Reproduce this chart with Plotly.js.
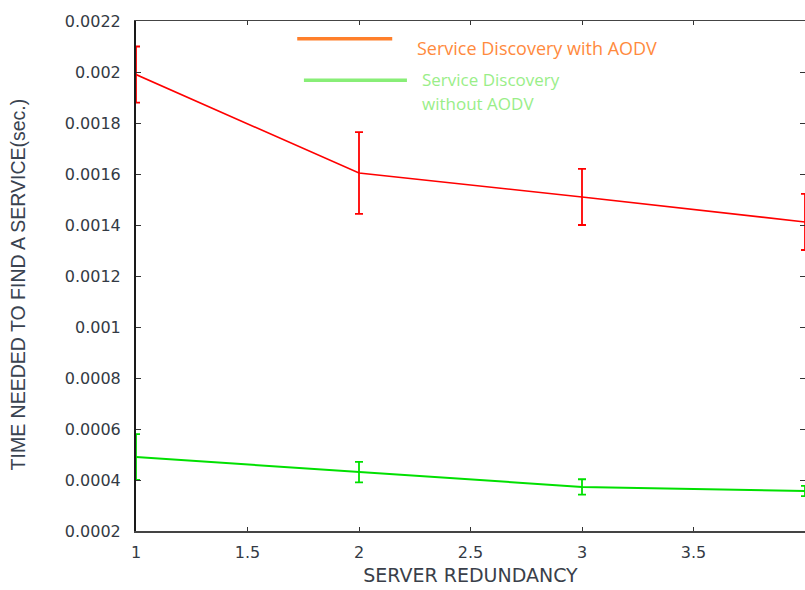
<!DOCTYPE html>
<html>
<head>
<meta charset="utf-8">
<script src="https://cdn.plot.ly/plotly-3.0.1.min.js"></script>
<style>html,body{margin:0;padding:0;background:#fff;}#chart{width:805px;height:590px;}</style>
</head>
<body>
<div id="chart"></div>
<script>
var serverRedundancy = [1, 2, 3, 4];
var withAodv = [0.00199, 0.001604, 0.00151, 0.001412];
var withAodvErr = [0.00011, 0.00016, 0.00011, 0.00011];
var withoutAodv = [0.00049, 0.000431, 0.000373, 0.000357];
var withoutAodvErr = [0.00009, 0.00004, 0.00003, 0.00002];
var yTickVals = [0.0002, 0.0004, 0.0006, 0.0008, 0.001, 0.0012, 0.0014, 0.0016, 0.0018, 0.002, 0.0022];
var yTickText = ["0.0002", "0.0004", "0.0006", "0.0008", "0.001", "0.0012", "0.0014", "0.0016", "0.0018", "0.002", "0.0022"];
var xTickVals = [1, 1.5, 2, 2.5, 3, 3.5, 4];
var xTickText = ["1", "1.5", "2", "2.5", "3", "3.5", "4"];
var xTitle = "SERVER REDUNDANCY";
var yTitle = "TIME NEEDED TO FIND A SERVICE(sec.)";
var legendWith = "Service Discovery with AODV";
var legendWithoutLines = ["Service Discovery", "without AODV"];

var traces = [
  {x: serverRedundancy, y: withAodv, type: 'scatter', mode: 'lines', name: legendWith,
   line: {color: '#ff0000', width: 1.6},
   error_y: {type: 'data', array: withAodvErr, visible: true, color: '#ff0000', thickness: 1.8, width: 4}},
  {x: serverRedundancy, y: withoutAodv, type: 'scatter', mode: 'lines', name: legendWithoutLines.join(' '),
   line: {color: '#00e000', width: 2},
   error_y: {type: 'data', array: withoutAodvErr, visible: true, color: '#00e000', thickness: 1.8, width: 4}}
];

var tickFont = {family: 'DejaVu Sans, sans-serif', size: 16, color: '#333a44'};
var legFont = 'Open Sans, sans-serif';

var layout = {
  width: 805, height: 590,
  margin: {l: 136, r: 0, t: 21, b: 59},
  paper_bgcolor: '#fff', plot_bgcolor: '#fff',
  showlegend: false,
  font: {family: 'DejaVu Sans, sans-serif', color: '#333'},
  xaxis: {
    range: [1, 4], tickvals: xTickVals, ticktext: xTickText,
    ticks: 'inside', ticklen: 4, tickcolor: '#333', mirror: 'ticks',
    showline: true, linecolor: '#444', linewidth: 1.5, showgrid: false, zeroline: false,
    tickfont: tickFont, ticklabelstandoff: 6,
    title: {text: xTitle, font: {family: 'DejaVu Sans, sans-serif', size: 19, color: '#3a3f4a'}, standoff: 8}
  },
  yaxis: {
    range: [0.0002, 0.0022], tickvals: yTickVals, ticktext: yTickText,
    ticks: 'inside', ticklen: 5, tickcolor: '#333', mirror: 'ticks',
    showline: true, linecolor: '#1a1a1a', linewidth: 2, showgrid: false, zeroline: false,
    tickfont: tickFont, ticklabelstandoff: 10
  },
  shapes: [
    {type: 'line', xref: 'paper', yref: 'paper', x0: 0.241, x1: 0.383, y0: 0.965, y1: 0.965,
     line: {color: '#ff7f2a', width: 3.5}},
    {type: 'line', xref: 'paper', yref: 'paper', x0: 0.251, x1: 0.405, y0: 0.884, y1: 0.884,
     line: {color: '#88ee77', width: 3.5}}
  ],
  annotations: [
    {xref: 'paper', yref: 'paper', x: -0.176, y: 0.484, xanchor: 'center', yanchor: 'middle', showarrow: false,
     textangle: -90, text: yTitle, font: {family: 'Liberation Sans, Arial, sans-serif', size: 19.5, color: '#3a4350'}},
    {xref: 'paper', yref: 'paper', x: 0.417, y: 0.947, xanchor: 'left', yanchor: 'middle', showarrow: false,
     text: legendWith, font: {family: legFont, size: 18, color: '#ff8a3d'}},
    {xref: 'paper', yref: 'paper', x: 0.4245, y: 0.886, xanchor: 'left', yanchor: 'middle', showarrow: false,
     text: legendWithoutLines[0], font: {family: legFont, size: 17, color: '#99ee88'}},
    {xref: 'paper', yref: 'paper', x: 0.4245, y: 0.839, xanchor: 'left', yanchor: 'middle', showarrow: false,
     text: legendWithoutLines[1], font: {family: legFont, size: 17, color: '#99ee88'}}
  ]
};

Plotly.newPlot('chart', traces, layout, {displayModeBar: false, staticPlot: true});
</script>
</body>
</html>
